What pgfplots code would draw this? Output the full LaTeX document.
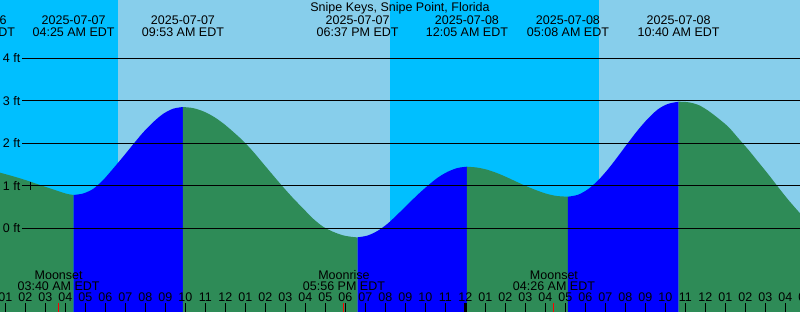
\documentclass[border=0pt]{standalone}
\usepackage{fontspec}
\setmainfont{Liberation Sans}
\usepackage{pgfplots}
\pgfplotsset{compat=1.18}
\definecolor{nightsky}{RGB}{0,191,255}
\definecolor{daysky}{RGB}{135,206,235}
\definecolor{flood}{RGB}{0,0,255}
\definecolor{ebb}{RGB}{46,139,87}
\newcommand{\lbl}{\fontsize{12.5}{14}\selectfont}
\tikzset{lab/.style={inner sep=0pt, font=\lbl}}

\begin{document}
\begin{tikzpicture}
\begin{axis}[
  at={(0,0)}, anchor=south west,
  width=800pt, height=312pt, scale only axis,
  xmin=0.735, xmax=40.735, ymin=-1.969, ymax=5.372,
  hide axis,
]
% sky: day, then night bands (x = hours since 2025-07-07 00:00 EDT)
\addplot[fill=daysky, draw=none] coordinates {(0,-3) (0,6) (41,6) (41,-3)};
\addplot[fill=nightsky, draw=none] coordinates {(0,-3) (0,6) (6.635,6) (6.635,-3)};
\addplot[fill=nightsky, draw=none] coordinates {(20.235,-3) (20.235,6) (30.685,6) (30.685,-3)};

% tide height (ft): green while falling, blue while rising
\addplot[fill=ebb, draw=none, smooth] coordinates {
(0.735,1.309) (1.235,1.245) (1.735,1.176) (2.235,1.10) (2.735,1.019) (3.235,0.94)
(3.735,0.862) (4.085,0.81) (4.417,0.785)
} -- (axis cs:4.417,-2.2) -- (axis cs:0.735,-2.2) -- cycle;
\addplot[fill=flood, draw=none, smooth] coordinates {
(4.417,0.785) (4.9,0.82) (5.4,0.93) (5.9,1.14) (6.4,1.41) (6.9,1.69) (7.4,1.98)
(7.9,2.26) (8.4,2.50) (8.9,2.695) (9.4,2.815) (9.883,2.854)
} -- (axis cs:9.883,-2.2) -- (axis cs:4.417,-2.2) -- cycle;
\addplot[fill=ebb, draw=none, smooth] coordinates {
(9.883,2.854) (10.383,2.829) (10.883,2.756) (11.383,2.636) (11.883,2.474) (12.383,2.275)
(12.883,2.06) (13.383,1.81) (13.883,1.53) (14.383,1.25) (14.883,0.975) (15.383,0.713)
(15.883,0.47) (16.383,0.23) (16.883,0.04) (17.383,-0.08) (17.883,-0.165) (18.383,-0.205)
(18.617,-0.212)
} -- (axis cs:18.617,-2.2) -- (axis cs:9.883,-2.2) -- cycle;
\addplot[fill=flood, draw=none, smooth] coordinates {
(18.617,-0.212) (19.117,-0.17) (19.617,-0.06) (20.117,0.11) (20.617,0.33) (21.117,0.56)
(21.617,0.79) (22.117,1.0) (22.617,1.19) (23.117,1.33) (23.617,1.42) (24.083,1.449)
} -- (axis cs:24.083,-2.2) -- (axis cs:18.617,-2.2) -- cycle;
\addplot[fill=ebb, draw=none, smooth] coordinates {
(24.083,1.449) (24.583,1.43) (25.083,1.38) (25.583,1.30) (26.083,1.20) (26.583,1.09)
(27.083,0.985) (27.583,0.89) (28.083,0.81) (28.583,0.76) (29.133,0.744)
} -- (axis cs:29.133,-2.2) -- (axis cs:24.083,-2.2) -- cycle;
\addplot[fill=flood, draw=none, smooth] coordinates {
(29.133,0.744) (29.633,0.789) (30.133,0.919) (30.633,1.125) (31.133,1.389) (31.633,1.693)
(32.133,2.009) (32.633,2.313) (33.133,2.582) (33.633,2.80) (34.133,2.927) (34.667,2.979)
} -- (axis cs:34.667,-2.2) -- (axis cs:29.133,-2.2) -- cycle;
\addplot[fill=ebb, draw=none, smooth] coordinates {
(34.667,2.979) (35.167,2.965) (35.667,2.90) (36.167,2.76) (36.667,2.58) (37.167,2.38)
(37.667,2.11) (38.167,1.84) (38.667,1.55) (39.167,1.26) (39.667,0.955) (40.167,0.66)
(40.735,0.353)
} -- (axis cs:40.735,-2.2) -- (axis cs:34.667,-2.2) -- cycle;

% level lines
\addplot[black, line width=1pt] coordinates {(1.835,0) (41,0)};
\addplot[black, line width=1pt] coordinates {(1.835,1) (41,1)};
\addplot[black, line width=1pt] coordinates {(1.835,2) (41,2)};
\addplot[black, line width=1pt] coordinates {(1.835,3) (41,3)};
\addplot[black, line width=1pt] coordinates {(1.835,4) (41,4)};
\addplot[black, line width=1pt, mark=+, mark size=4.3pt, only marks] coordinates {(2.235,1)};

% hour ticks, midnight and moon ticks
\pgfplotsinvokeforeach{1,...,41}{
  \addplot[black, line width=1pt] coordinates {(#1,-2) (#1,-1.758)};
  \node[lab, anchor=base] at (axis cs:#1,-1.727)
    {\pgfmathtruncatemacro\hh{mod(#1-1,12)+1}\ifnum\hh<10 0\fi\hh};
}
\addplot[black, line width=3pt] coordinates {(24,-2) (24,-1.758)};
\addplot[red, line width=1pt] coordinates {(3.667,-2) (3.667,-1.758)};
\addplot[red, line width=1pt] coordinates {(17.933,-2) (17.933,-1.758)};
\addplot[red, line width=1pt] coordinates {(28.433,-2) (28.433,-1.758)};

\node[lab, anchor=base west] at (axis cs:0.87,-0.101) {0 ft};
\node[lab, anchor=base west] at (axis cs:0.87,0.899) {1 ft};
\node[lab, anchor=base west] at (axis cs:0.87,1.899) {2 ft};
\node[lab, anchor=base west] at (axis cs:0.87,2.899) {3 ft};
\node[lab, anchor=base west] at (axis cs:0.87,3.899) {4 ft};

\node[lab, anchor=base] at (axis cs:20.735,5.101) {Snipe Keys, Snipe Point, Florida};

\node[lab, anchor=base] at (axis cs:-0.535,4.807) {2025-07-06};
\node[lab, anchor=base] at (axis cs:-0.535,4.513) {11:19 PM EDT};
\node[lab, anchor=base] at (axis cs:4.417,4.807) {2025-07-07};
\node[lab, anchor=base] at (axis cs:4.417,4.513) {04:25 AM EDT};
\node[lab, anchor=base] at (axis cs:9.883,4.807) {2025-07-07};
\node[lab, anchor=base] at (axis cs:9.883,4.513) {09:53 AM EDT};
\node[lab, anchor=base] at (axis cs:18.617,4.807) {2025-07-07};
\node[lab, anchor=base] at (axis cs:18.617,4.513) {06:37 PM EDT};
\node[lab, anchor=base] at (axis cs:24.083,4.807) {2025-07-08};
\node[lab, anchor=base] at (axis cs:24.083,4.513) {12:05 AM EDT};
\node[lab, anchor=base] at (axis cs:29.133,4.807) {2025-07-08};
\node[lab, anchor=base] at (axis cs:29.133,4.513) {05:08 AM EDT};
\node[lab, anchor=base] at (axis cs:34.667,4.807) {2025-07-08};
\node[lab, anchor=base] at (axis cs:34.667,4.513) {10:40 AM EDT};

\node[lab, anchor=base] at (axis cs:3.667,-1.2) {Moonset};
\node[lab, anchor=base] at (axis cs:3.667,-1.452) {03:40 AM EDT};
\node[lab, anchor=base] at (axis cs:17.933,-1.2) {Moonrise};
\node[lab, anchor=base] at (axis cs:17.933,-1.452) {05:56 PM EDT};
\node[lab, anchor=base] at (axis cs:28.433,-1.2) {Moonset};
\node[lab, anchor=base] at (axis cs:28.433,-1.452) {04:26 AM EDT};
\end{axis}
\pgfresetboundingbox
\path[use as bounding box] (0,0) rectangle (800pt,312pt);
\end{tikzpicture}
\end{document}
